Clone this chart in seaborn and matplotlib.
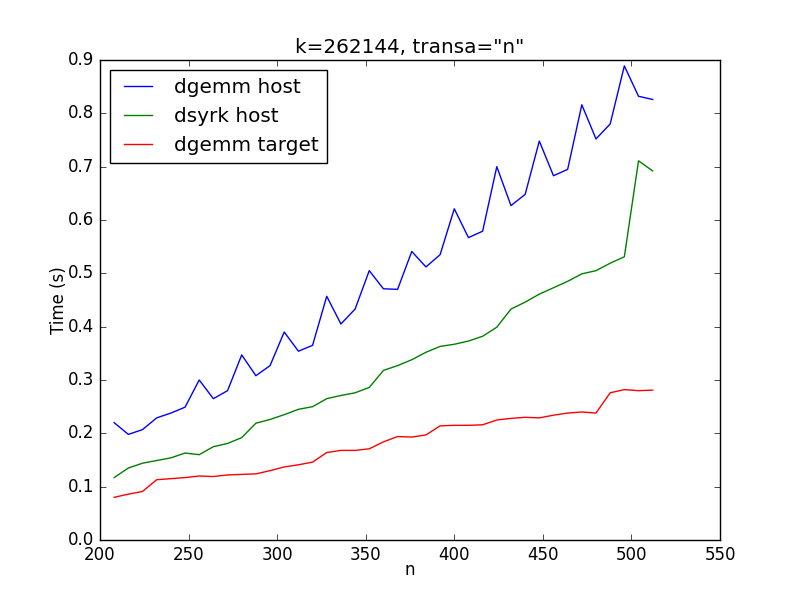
import matplotlib
matplotlib.use("Agg")
import matplotlib.pyplot as plt
import pandas as pd
import seaborn as sns

# matrix sizes n
n_values = list(range(208, 513, 8))

# timings in seconds
dgemm_host = [0.220, 0.198, 0.207, 0.229, 0.238, 0.249, 0.300, 0.265, 0.280, 0.347,
              0.308, 0.327, 0.390, 0.354, 0.365, 0.457, 0.405, 0.433, 0.505, 0.471,
              0.470, 0.541, 0.512, 0.535, 0.621, 0.567, 0.579, 0.700, 0.627, 0.648,
              0.748, 0.683, 0.695, 0.816, 0.752, 0.780, 0.889, 0.832, 0.826]
dsyrk_host = [0.117, 0.135, 0.144, 0.149, 0.154, 0.163, 0.160, 0.175, 0.181, 0.192,
              0.219, 0.226, 0.235, 0.245, 0.250, 0.265, 0.271, 0.276, 0.286, 0.318,
              0.327, 0.338, 0.352, 0.363, 0.367, 0.373, 0.382, 0.399, 0.433, 0.446,
              0.461, 0.473, 0.485, 0.499, 0.505, 0.519, 0.531, 0.711, 0.692]
dgemm_target = [0.080, 0.086, 0.091, 0.113, 0.115, 0.117, 0.120, 0.119, 0.122, 0.123,
                0.124, 0.130, 0.137, 0.141, 0.146, 0.164, 0.168, 0.168, 0.171, 0.184,
                0.194, 0.193, 0.197, 0.214, 0.215, 0.215, 0.216, 0.225, 0.228, 0.230,
                0.229, 0.234, 0.238, 0.240, 0.238, 0.276, 0.282, 0.280, 0.281]

series_names = ['dgemm host', 'dsyrk host', 'dgemm target']
palette = {'dgemm host': 'blue', 'dsyrk host': 'green', 'dgemm target': 'red'}

# build long dataframe for seaborn
frames = []
for name, vals in zip(series_names, [dgemm_host, dsyrk_host, dgemm_target]):
    frames.append(pd.DataFrame({'n': n_values, 'Time': vals, 'Series': name}))
df = pd.concat(frames, ignore_index=True)

plt.style.use('classic')
fig, ax = plt.subplots(figsize=(8, 6), dpi=100)
fig.patch.set_facecolor('white')

sns.lineplot(data=df, x='n', y='Time', hue='Series', hue_order=series_names,
             palette=palette, estimator=None, sort=False, linewidth=1, ax=ax)

ax.set_xlim(200, 550)
ax.set_ylim(0, 0.9)
ax.set_title('k=262144, transa="n"')
ax.set_xlabel('n', labelpad=-2)
ax.set_ylabel('Time (s)', labelpad=0)

handles, labels = ax.get_legend_handles_labels()
ax.legend(handles, labels, loc='upper left')

fig.savefig('out.png', dpi=100, facecolor='white')
